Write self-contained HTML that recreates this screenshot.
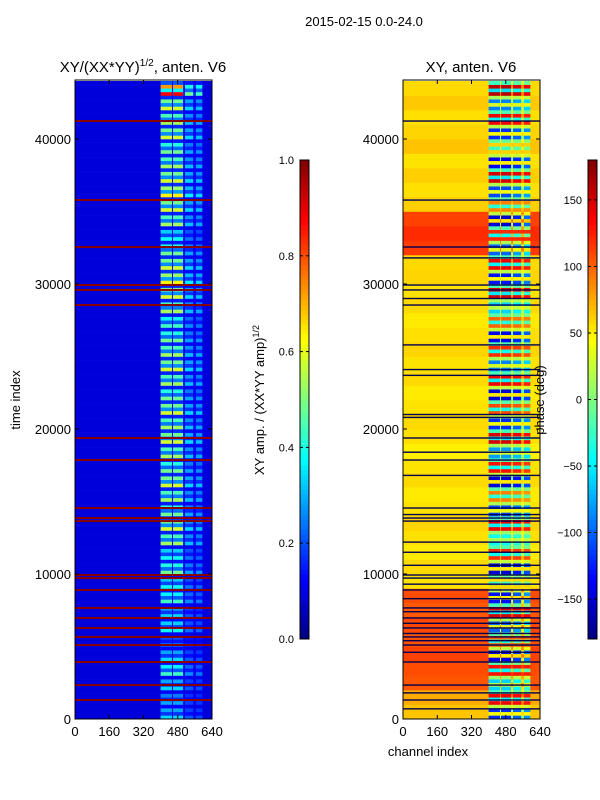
<!DOCTYPE html>
<html><head><meta charset="utf-8">
<style>
body{margin:0;background:#fff;}
svg{display:block;font-family:"Liberation Sans",sans-serif;}
</style></head>
<body>
<svg id="fig" width="600" height="800" viewBox="0 0 600 800">
<rect x="0" y="0" width="600" height="800" fill="#fff"/>
<text x="364" y="26" font-size="13" text-anchor="middle">2015-02-15 0.0-24.0</text>
<text x="143" y="72" font-size="15" text-anchor="middle">XY/(XX*YY)<tspan font-size="10" dy="-6">1/2</tspan><tspan dy="6">, anten. V6</tspan></text>
<text x="471" y="72" font-size="15" text-anchor="middle">XY, anten. V6</text>
<text transform="translate(20,400) rotate(-90)" font-size="13" text-anchor="middle">time index</text>
<text x="428" y="756" font-size="13" text-anchor="middle">channel index</text>
<text transform="translate(264,400) rotate(-90)" font-size="13" text-anchor="middle">XY amp. / (XX*YY amp)<tspan font-size="9" dy="-5">1/2</tspan></text>
<g id="left"></g>
<g id="right"></g>
<g id="axes"></g>
<g id="cbars"></g>
<text transform="translate(544,400) rotate(-90)" font-size="13" text-anchor="middle">phase (deg)</text>
</svg>
<script>
// ---- data ----
const timeMax = 44070;
const bandSize = 1000;
const colEdges = [0,400,453,458,505,514,552,565,595,640];
const ampColWeight = [0,0.9,0.1,0.9,0.1,0.45,0.1,0.4,0];
const phaseColActive = [0,1,0.3,1,0.3,0.9,0.3,0.8,0];
const stripePattern = [1,0.35,0.8,0.15];
const ampBase = 0.09;
const leftAmp = [0.5,0.4,0.5,0.7,0.5,0.3,0.6,0.5,0.7,0.6,0.8,0.6,0.9,1.0,0.8,0.9,1.0,0.8,0.9,1.0,0.9,1.0,0.8,0.9,1.0,0.9,0.8,0.7,0.9,1.0,1.1,1.0,0.8,0.6,0.9,1.0,1.1,1.0,0.9,0.8,1.0,0.9,1.0,1.6];
const rightBase = [65,75,105,108,112,106,110,104,108,55,58,52,56,60,55,52,58,55,50,56,58,55,52,58,55,60,56,52,58,55,60,58,115,120,112,62,56,62,55,66,60,56,64,58];
const rightActive = [-120,140,-60,130,-140,100,-100,150,-130,60,-150,120,-40,140,-110,90,-150,130,-80,150,-120,110,-150,140,-90,120,-140,100,-60,150,-130,140,-100,120,-150,90,-110,150,-140,60,-120,140,-90,160];
const ampFlags = [41240,35790,32550,29930,29590,28550,19380,17860,14550,13860,13650,9930,9720,8900,7660,6970,6280,5660,5100,3930,2340,1310];
const phaseFlags = [41240,35790,32550,31800,29930,29590,29000,28550,25800,24100,23700,21000,20800,19380,18400,17860,16800,14550,14100,13860,13650,12200,11500,10600,9930,9720,9300,8900,8300,7660,7400,6970,6600,6280,5900,5660,5400,5100,4600,3930,2340,1800,1310,700];
const yTicks = [0,10000,20000,30000,40000];
const xTicks = [0,160,320,480,640];
const ampCbTicks = [0.0,0.2,0.4,0.6,0.8,1.0];
const phaseCbTicks = [-150,-100,-50,0,50,100,150];

// ---- helpers ----
const NS="http://www.w3.org/2000/svg";
const axTop=80,axBot=719,leftX=75,rightX=403,panelW=137;
function yS(t){return axBot-(t/timeMax)*(axBot-axTop);}
function xS(c,x0){return x0+(c/640)*panelW;}
function clamp(v){return Math.max(0,Math.min(1,v));}
function jet(v){v=clamp(v);
 const r=clamp(1.5-Math.abs(4*v-3)),g=clamp(1.5-Math.abs(4*v-2)),b=clamp(1.5-Math.abs(4*v-1));
 return `rgb(${Math.round(r*255)},${Math.round(g*255)},${Math.round(b*255)})`;}
function mk(tag,attrs,parent){const e=document.createElementNS(NS,tag);for(const k in attrs)e.setAttribute(k,attrs[k]);parent.appendChild(e);return e;}
const LG=document.getElementById('left'),RG=document.getElementById('right'),AG=document.getElementById('axes'),CG=document.getElementById('cbars');

// heatmaps
const nSub=stripePattern.length;
for(let b=0;b<leftAmp.length;b++){
 const t0=b*bandSize,t1=Math.min(timeMax,(b+1)*bandSize);
 for(let s=0;s<nSub;s++){
  const s0=t0+s*(t1-t0)/nSub,s1=t0+(s+1)*(t1-t0)/nSub;
  const hf=stripePattern[s];
  for(let c=0;c<colEdges.length-1;c++){
   const x0=xS(colEdges[c],leftX),x1=xS(colEdges[c+1],leftX);
   const v=ampBase+leftAmp[b]*ampColWeight[c]*0.55*hf;
   const r=mk('rect',{x:x0,y:yS(s1),width:x1-x0+0.3,height:yS(s0)-yS(s1)+0.3,fill:jet(v)},LG);
   
   
   const w=phaseColActive[c];
   const act=(s%2===0)?rightActive[b]:-rightActive[b]*hf;
   const ph=rightBase[b]*(1-w)+act*w;
   const rx0=xS(colEdges[c],rightX),rx1=xS(colEdges[c+1],rightX);
   const r2=mk('rect',{x:rx0,y:yS(s1),width:rx1-rx0+0.3,height:yS(s0)-yS(s1)+0.3,fill:jet((ph+180)/360)},RG);
   
   
  }
 }
}
ampFlags.forEach(t=>{const l=mk('rect',{x:leftX,y:yS(t)-1,width:panelW,height:2,fill:'#8b0000'},LG);
 
 });
phaseFlags.forEach(t=>{const l=mk('rect',{x:rightX,y:yS(t)-0.7,width:panelW,height:1.4,fill:'#000050'},RG);
 
 });

// axes frames and ticks
[leftX,rightX].forEach((x0,pi)=>{
 const f=mk('rect',{x:x0,y:axTop,width:panelW,height:axBot-axTop,fill:'none',stroke:'#000','stroke-width':1},AG);
 
 
 yTicks.forEach(t=>{const y=yS(t);
  mk('line',{x1:x0,x2:x0+4,y1:y,y2:y,stroke:'#000'},AG);
  mk('line',{x1:x0+panelW-4,x2:x0+panelW,y1:y,y2:y,stroke:'#000'},AG);
  const tx=mk('text',{x:x0-4,y:y+5,'font-size':13,'text-anchor':'end'},AG);tx.textContent=t;
  
  });
 xTicks.forEach(c=>{const x=xS(c,x0);
  mk('line',{x1:x,x2:x,y1:axBot,y2:axBot-4,stroke:'#000'},AG);
  mk('line',{x1:x,x2:x,y1:axTop,y2:axTop+4,stroke:'#000'},AG);
  const tx=mk('text',{x:x,y:axBot+17,'font-size':13,'text-anchor':'middle'},AG);tx.textContent=c;
  
  });
});

// colorbars
const cbTop=160,cbBot=639,cbW=9;
function drawCb(x0,ticks,lo,hi,isAmp,name){
 const g=mk('g',{},CG);
 
 
 const n=96;
 for(let i=0;i<n;i++){mk('rect',{x:x0,y:cbBot-(i+1)*(cbBot-cbTop)/n,width:cbW,height:(cbBot-cbTop)/n+0.5,fill:jet((i+0.5)/n)},g);}
 mk('rect',{x:x0,y:cbTop,width:cbW,height:cbBot-cbTop,fill:'none',stroke:'#000'},g);
 ticks.forEach(t=>{const y=cbBot-(t-lo)/(hi-lo)*(cbBot-cbTop);
  mk('line',{x1:x0,x2:x0+3,y1:y,y2:y,stroke:'#000'},g);
  mk('line',{x1:x0+cbW-3,x2:x0+cbW,y1:y,y2:y,stroke:'#000'},g);
  const tx=mk('text',{x:x0-6,y:y+4,'font-size':11,'text-anchor':'end'},g);
  tx.textContent=isAmp?t.toFixed(1):String(t).replace('-','\u2212');
  
  });
}
drawCb(300,ampCbTicks,0,1,true,'amp-colorbar');
drawCb(588,phaseCbTicks,-180,180,false,'phase-colorbar');
</script>
</body></html>
